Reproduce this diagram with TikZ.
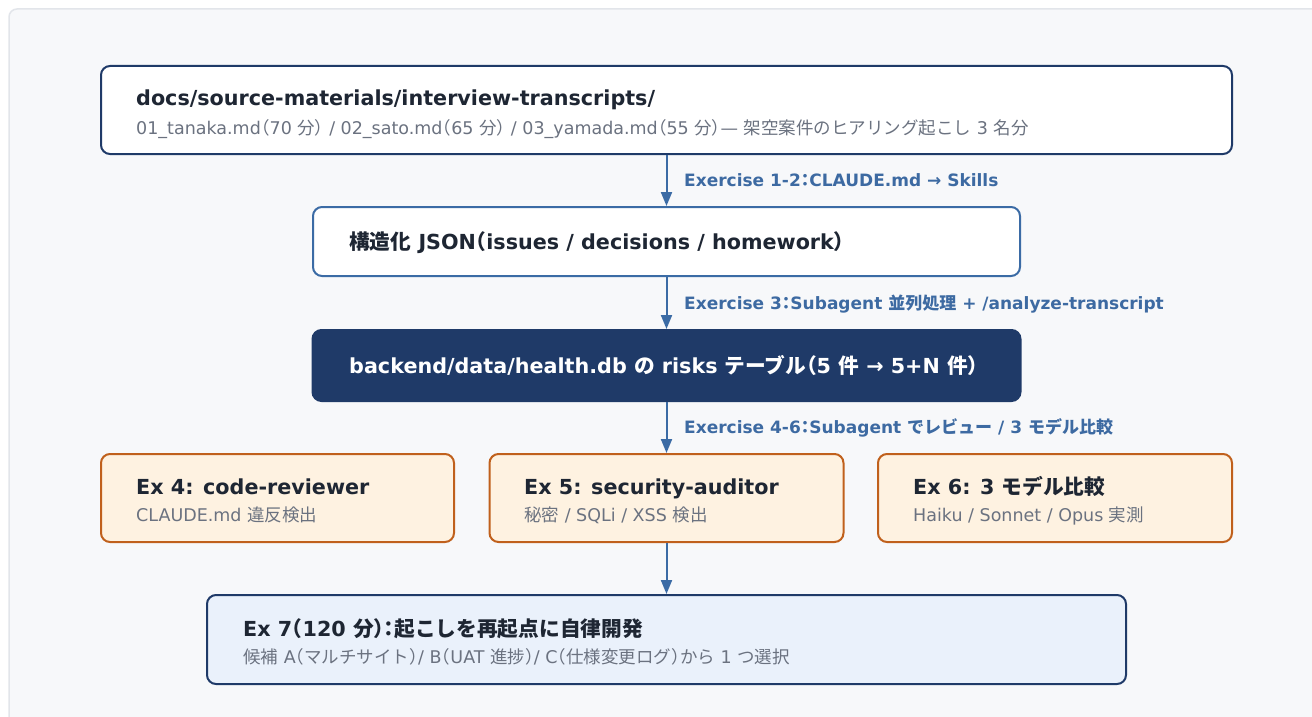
\documentclass[tikz,border=0pt]{standalone}
\usepackage{fontspec}
\usetikzlibrary{arrows.meta}
\setmainfont{DejaVu Sans}
\newfontfamily\jp{Noto Sans CJK JP}
% half-width forms for the CJK brackets and colons
\newfontfamily\jph{Noto Sans CJK JP}[RawFeature=+halt]
\newcommand\ja[1]{{\jp #1}}
\newcommand\jh[1]{{\jph #1}}

\definecolor{navy}{HTML}{1F3A68}
\definecolor{steel}{HTML}{3B6BA5}
\definecolor{steeltext}{HTML}{3D6AA2}
\definecolor{ink}{HTML}{1E2633}
\definecolor{muted}{HTML}{6B7280}
\definecolor{rust}{HTML}{C0601C}
\definecolor{cream}{HTML}{FEF2E1}
\definecolor{paleblue}{HTML}{EAF1FB}
\definecolor{bgpanel}{HTML}{F7F8FA}
\definecolor{framegray}{HTML}{E2E5EA}

\newcommand\titlefont{\fontsize{20.7}{24}\selectfont\bfseries}
\newcommand\subfont{\fontsize{17.5}{21}\selectfont}
\newcommand\labelfont{\fontsize{17}{20}\selectfont\bfseries}

\tikzset{
  panel/.style={draw=framegray, line width=1.5pt, fill=bgpanel, rounded corners=8pt},
  boxbase/.style={rectangle, rounded corners=9pt, line width=2pt, inner sep=0pt},
  srcbox/.style={boxbase, draw=navy, fill=white},
  jsonbox/.style={boxbase, draw=steel, fill=white},
  dbbox/.style={boxbase, draw=navy, fill=navy},
  exbox/.style={boxbase, draw=rust, fill=cream},
  goalbox/.style={boxbase, draw=navy, fill=paleblue},
  title/.style={anchor=base west, inner sep=0pt, text=ink, font=\titlefont},
  sub/.style={anchor=base west, inner sep=0pt, text=muted, font=\subfont},
  flow/.style={draw=steel, line width=2pt, -{Triangle[width=11pt,length=14pt]}},
  flowlabel/.style={anchor=base west, inner sep=0pt, text=steeltext, font=\labelfont},
}

\begin{document}
\begin{tikzpicture}[x=1pt,y=-1pt]
  \useasboundingbox (0,0) rectangle (1312,717);
  \clip (0,0) rectangle (1312,717);
  \fill[white] (0,0) rectangle (1312,717);
  \draw[panel] (9,9) rectangle (1345,750);

  % boxes
  \node[srcbox, minimum width=1131pt, minimum height=88pt] (src) at (666.5,110) {};
  \node[jsonbox, minimum width=707pt, minimum height=69pt] (json) at (666.5,241.5) {};
  \node[dbbox, minimum width=708pt, minimum height=71pt] (db) at (666.5,365.5) {};
  \node[exbox, minimum width=353pt, minimum height=88pt] (ex4) at (277.5,498) {};
  \node[exbox, minimum width=354pt, minimum height=88pt] (ex5) at (666.5,498) {};
  \node[exbox, minimum width=354pt, minimum height=88pt] (ex6) at (1055,498) {};
  \node[goalbox, minimum width=919pt, minimum height=89pt] (ex7) at (666.5,639.5) {};

  % box texts
  \node[title] (srcT) at (136,105) {docs/source-materials/interview-transcripts/};
  \node[sub] (srcS) at (136,134) {01\_tanaka.md\jh{（}70 \ja{分}\jh{）} / 02\_sato.md\jh{（}65 \ja{分}\jh{）} / 03\_yamada.md\jh{（}55 \ja{分}\jh{）}— \ja{架空案件のヒアリング起こし} 3 \ja{名分}};

  \node[title] (jsonT) at (349,249) {\ja{構造化} JSON\jh{（}issues / decisions / homework\jh{）}};

  \node[title, text=white] (dbT) at (349,373) {backend/data/health.db \ja{の} risks \ja{テーブル}\jh{（}5 \ja{件} → 5+N \ja{件}\jh{）}};

  \node[title] (ex4T) at (136,494) {Ex 4: code-reviewer};
  \node[sub] (ex4S) at (136,521) {CLAUDE.md \ja{違反検出}};
  \node[title] (ex5T) at (524,494) {Ex 5: security-auditor};
  \node[sub] (ex5S) at (524,521) {\ja{秘密} / SQLi / XSS \ja{検出}};
  \node[title] (ex6T) at (913,494) {Ex 6: 3 \ja{モデル比較}};
  \node[sub] (ex6S) at (913,521) {Haiku / Sonnet / Opus \ja{実測}};

  \node[title] (ex7T) at (243,636) {Ex 7\jh{（}120 \ja{分}\jh{）：}\ja{起こしを再起点に自律開発}};
  \node[sub] (ex7S) at (243,663) {\ja{候補} A\jh{（}\ja{マルチサイト}\jh{）}/ B\jh{（}UAT \ja{進捗}\jh{）}/ C\jh{（}\ja{仕様変更ログ}\jh{）}\ja{から} 1 \ja{つ選択}};

  % connectors
  \draw[flow] (src.south) -- (json.north);
  \draw[flow] (json.south) -- (db.north);
  \draw[flow] (db.south) -- (ex5.north);
  \draw[flow] (ex5.south) -- (ex7.north);

  % connector labels
  \node[flowlabel] (l1) at (684,186) {Exercise 1-2\jh{：}CLAUDE.md → Skills};
  \node[flowlabel] (l2) at (684,309) {Exercise 3\jh{：}Subagent \ja{並列処理} + /analyze-transcript};
  \node[flowlabel] (l3) at (684,433) {Exercise 4-6\jh{：}Subagent \ja{でレビュー} / 3 \ja{モデル比較}};
\end{tikzpicture}
\end{document}
